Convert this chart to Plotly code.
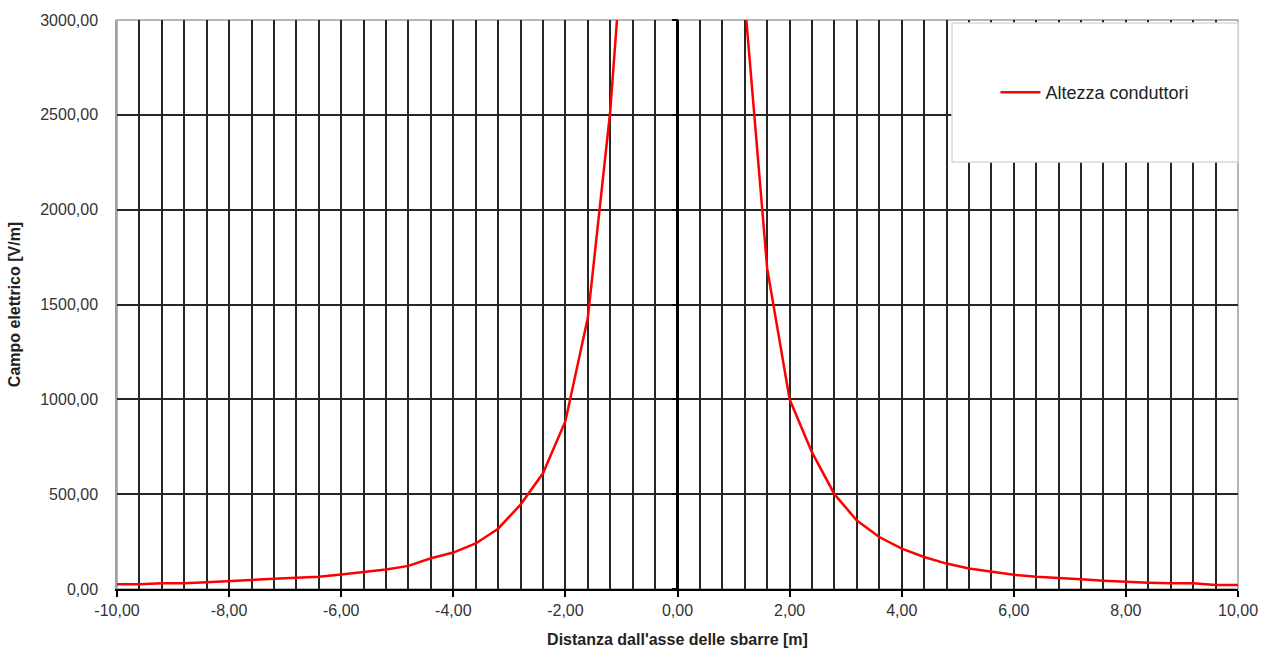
import plotly.graph_objects as go

# Data
x_left = [-10.0, -9.6, -9.2, -8.8, -8.4, -8.0, -7.6, -7.2, -6.8, -6.4, -6.0, -5.6,
          -5.2, -4.8, -4.4, -4.0, -3.6, -3.2, -2.8, -2.4, -2.0, -1.6, -1.2, -0.8]
e_left = [25, 25, 30, 30, 35, 42, 47, 54, 59, 64, 77, 89,
          103, 122, 162, 192, 240, 318, 445, 610, 885, 1430, 2520, 4120]
x_right = [0.8, 1.2, 1.6, 2.0, 2.4, 2.8, 3.2, 3.6, 4.0, 4.4, 4.8, 5.2,
           5.6, 6.0, 6.4, 6.8, 7.2, 7.6, 8.0, 8.4, 8.8, 9.2, 9.6, 10.0]
e_right = [4500, 3100, 1690, 1000, 720, 500, 361, 274, 213, 169, 134, 108,
           91, 75, 64, 56, 51, 44, 38, 33, 30, 30, 21, 21]

x_tick_vals = [-10, -8, -6, -4, -2, 0, 2, 4, 6, 8, 10]
x_tick_text = ["-10,00", "-8,00", "-6,00", "-4,00", "-2,00", "0,00",
               "2,00", "4,00", "6,00", "8,00", "10,00"]

series_name = "Altezza conduttori"
x_title = "Distanza dall'asse delle sbarre [m]"
y_title = "Campo elettrico [V/m]"

x_vals = x_left + x_right
y_vals = e_left + e_right

FONT = "Liberation Sans, Arial, sans-serif"
GRID = "#262626"

fig = go.Figure()
fig.add_trace(go.Scatter(
    x=x_vals, y=y_vals, mode="lines", name=series_name,
    line=dict(color="#ff0000", width=2.5, shape="linear"),
    showlegend=True,
))

fig.update_layout(
    width=1274, height=659,
    margin=dict(l=117, r=36, t=16, b=70),
    paper_bgcolor="white", plot_bgcolor="white",
    separators=",.",
    font=dict(family=FONT, size=16, color="#333333"),
    showlegend=True,
    legend=dict(
        x=0.8724, y=0.8726, xanchor="center", yanchor="middle",
        bgcolor="rgba(0,0,0,0)", borderwidth=0,
        font=dict(family=FONT, size=18, color="#222222"),
        itemwidth=40,
    ),
    xaxis=dict(
        range=[-10, 10], tickmode="array", tickvals=x_tick_vals, ticktext=x_tick_text,
        showgrid=True, gridcolor=GRID, gridwidth=1.5,
        minor=dict(dtick=0.4, tick0=0, showgrid=True, gridcolor=GRID, gridwidth=1.5),
        zeroline=True, zerolinecolor="black", zerolinewidth=3,
        showline=True, linecolor="black", linewidth=2,
        ticks="outside", ticklen=6, tickwidth=2, tickcolor="black",
        tickfont=dict(family=FONT, size=16, color="#333333"),
        title=dict(text="<b>" + x_title + "</b>", standoff=16,
                   font=dict(family=FONT, size=16, color="#222222")),
    ),
    yaxis=dict(
        range=[0, 3000], dtick=500, tickformat=".2f",
        showgrid=True, gridcolor=GRID, gridwidth=1.5,
        zeroline=False,
        showline=True, linecolor="#a0a0a0", linewidth=1.5,
        ticks="", ticklabelstandoff=14,
        tickfont=dict(family=FONT, size=16, color="#333333"),
        title=dict(text="<b>" + y_title + "</b>", standoff=16,
                   font=dict(family=FONT, size=16, color="#222222")),
    ),
    yaxis2=dict(
        overlaying="y", anchor="free", position=0.5, side="left",
        range=[0, 3000], dtick=500,
        showgrid=False, zeroline=False, showline=False,
        ticks="outside", ticklen=6, tickwidth=2, tickcolor="black",
        showticklabels=False,
    ),
    shapes=[
        # plot frame (gray)
        dict(type="rect", xref="paper", yref="paper", x0=0, x1=1, y0=0, y1=1,
             line=dict(color="#a0a0a0", width=1.5), fillcolor="rgba(0,0,0,0)", layer="below"),
        # legend box
        dict(type="rect", xref="paper", yref="paper", x0=0.7449, x1=1.0, y0=0.7504, y1=0.9948,
             line=dict(color="#d9d9d9", width=1.5), fillcolor="white", layer="above"),
    ],
)

# invisible trace so the centre axis (ticks at x=0) renders
fig.add_trace(go.Scatter(x=[None], y=[None], yaxis="y2", showlegend=False, hoverinfo="skip"))

fig.write_html("out.html")
